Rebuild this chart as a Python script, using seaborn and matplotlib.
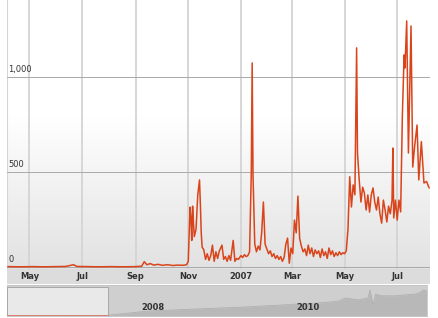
import numpy as np
import pandas as pd
import matplotlib
matplotlib.use("Agg")
import matplotlib.pyplot as plt
import matplotlib.dates as mdates
from matplotlib.colors import LinearSegmentedColormap
from matplotlib.patches import Rectangle
import seaborn as sns

# ---- main series (search volume) ----
dates = [
    "2006-04-06", "2006-04-20", "2006-05-04", "2006-05-18", "2006-06-01", "2006-06-12",
    "2006-06-21", "2006-06-25", "2006-07-06", "2006-07-20", "2006-08-03", "2006-08-17",
    "2006-08-31", "2006-09-08", "2006-09-11", "2006-09-14", "2006-09-18", "2006-09-22",
    "2006-09-27", "2006-10-02", "2006-10-08", "2006-10-14", "2006-10-20", "2006-10-26",
    "2006-10-30", "2006-11-01", "2006-11-02", "2006-11-03", "2006-11-04", "2006-11-05",
    "2006-11-06", "2006-11-07", "2006-11-08", "2006-11-10", "2006-11-12", "2006-11-14",
    "2006-11-15", "2006-11-16", "2006-11-17", "2006-11-19", "2006-11-21", "2006-11-23",
    "2006-11-25", "2006-11-27", "2006-11-29", "2006-12-01", "2006-12-03", "2006-12-05",
    "2006-12-07", "2006-12-10", "2006-12-12", "2006-12-14", "2006-12-16", "2006-12-18",
    "2006-12-20", "2006-12-23", "2006-12-25", "2006-12-27", "2006-12-29", "2007-01-01",
    "2007-01-03", "2007-01-05", "2007-01-07", "2007-01-09", "2007-01-11", "2007-01-13",
    "2007-01-14", "2007-01-15", "2007-01-17", "2007-01-19", "2007-01-21", "2007-01-23",
    "2007-01-25", "2007-01-27", "2007-01-29", "2007-01-31", "2007-02-02", "2007-02-04",
    "2007-02-06", "2007-02-08", "2007-02-10", "2007-02-12", "2007-02-14", "2007-02-16",
    "2007-02-18", "2007-02-20", "2007-02-22", "2007-02-24", "2007-02-26", "2007-02-28",
    "2007-03-02", "2007-03-04", "2007-03-06", "2007-03-08", "2007-03-10", "2007-03-12",
    "2007-03-14", "2007-03-16", "2007-03-18", "2007-03-20", "2007-03-22", "2007-03-24",
    "2007-03-26", "2007-03-28", "2007-03-30", "2007-04-01", "2007-04-03", "2007-04-05",
    "2007-04-07", "2007-04-09", "2007-04-11", "2007-04-13", "2007-04-15", "2007-04-17",
    "2007-04-19", "2007-04-21", "2007-04-23", "2007-04-25", "2007-04-27", "2007-04-29",
    "2007-05-01", "2007-05-03", "2007-05-05", "2007-05-07", "2007-05-09", "2007-05-11",
    "2007-05-13", "2007-05-15", "2007-05-16", "2007-05-18", "2007-05-20", "2007-05-22",
    "2007-05-24", "2007-05-26", "2007-05-28", "2007-05-30", "2007-06-01", "2007-06-03",
    "2007-06-05", "2007-06-07", "2007-06-09", "2007-06-11", "2007-06-13", "2007-06-15",
    "2007-06-17", "2007-06-19", "2007-06-21", "2007-06-23", "2007-06-25", "2007-06-26",
    "2007-06-27", "2007-06-29", "2007-07-01", "2007-07-03", "2007-07-05", "2007-07-07",
    "2007-07-09", "2007-07-10", "2007-07-12", "2007-07-14", "2007-07-17", "2007-07-19",
    "2007-07-21", "2007-07-24", "2007-07-26", "2007-07-29", "2007-08-01", "2007-08-04",
    "2007-08-07",
]
values = [
    2, 1, 2, 1, 2, 3,
    12, 3, 2, 1, 2, 1,
    2, 4, 28, 12, 18, 10,
    14, 9, 12, 8, 10, 9,
    12, 30, 180, 315, 260, 140,
    320, 230, 160, 200, 380, 458,
    330, 180, 105, 90, 40, 70,
    35, 60, 115, 30, 80, 45,
    85, 115, 40, 55, 30, 60,
    35, 140, 30, 45, 40, 60,
    50, 65, 55, 60, 80, 500,
    1074, 480, 120, 80, 110, 90,
    180, 342, 120, 95, 70, 85,
    55, 70, 45, 60, 40, 55,
    30, 50, 120, 152, 20, 100,
    70, 247, 180, 373, 150, 110,
    80, 95, 60, 115, 70, 100,
    55, 90, 70, 85, 50, 95,
    60, 80, 45, 100, 65, 85,
    55, 75, 60, 80, 65, 75,
    70, 85, 200, 475, 316, 432,
    380, 1153, 600, 458, 342, 420,
    389, 300, 379, 289, 380, 416,
    342, 300, 368, 280, 231, 352,
    300, 237, 320, 280, 350, 626,
    258, 352, 247, 352, 290, 800,
    1116, 1047, 1295, 600, 1268, 526,
    626, 747, 458, 660, 442, 450,
    416,
]

# ---- overview (navigator) series, relative units ----
nav_dates = [
    "2006-04-06", "2007-07-20", "2008-02-01", "2008-10-01", "2009-05-01", "2009-10-15",
    "2010-01-15", "2010-04-20", "2010-07-20", "2010-08-20", "2010-10-20", "2010-12-05",
    "2010-12-15", "2010-12-28", "2011-01-10", "2011-02-10", "2011-04-15", "2011-06-01",
    "2011-07-20", "2011-08-10", "2011-08-25", "2011-09-08",
]
nav_values = [
    1, 2, 16, 23, 29, 35,
    39, 42, 48, 58, 52, 58,
    84, 35, 70, 65, 65, 68,
    71, 77, 84, 81,
]

month_ticks = ["2006-05-01", "2006-07-01", "2006-09-01", "2006-11-01",
               "2007-01-01", "2007-03-01", "2007-05-01", "2007-07-01"]
month_labels = ["May", "Jul", "Sep", "Nov", "2007", "Mar", "May", "Jul"]
y_ticks = [0, 500, 1000]
y_labels = ["0", "500", "1,000"]
nav_ticks = ["2008-01-01", "2010-01-01"]
nav_labels = ["2008", "2010"]

df = pd.DataFrame({"date": pd.to_datetime(dates), "value": values})
nav = pd.DataFrame({"date": pd.to_datetime(nav_dates), "value": nav_values})

sns.set_theme(style="white")
plt.rcParams["font.family"] = ["DejaVu Sans"]

W, H = 438, 318
fig = plt.figure(figsize=(W / 100, H / 100), dpi=100)
fig.patch.set_facecolor("white")

def px_axes(x0, y0, x1, y1):
    return fig.add_axes([x0 / W, 1 - y1 / H, (x1 - x0) / W, (y1 - y0) / H])

# label band background (drawn beneath the axes so tick labels stay visible)
band = Rectangle((7 / W, 1 - 284 / H), (430 - 7) / W, (284 - 268) / H,
                 transform=fig.transFigure, facecolor="#dcdcdc", edgecolor="none", zorder=-10)
fig.patches.append(band)

ax = px_axes(7, 0, 430, 269)
ax.set_facecolor("white")
# background gradient: white at top, light grey at the bottom
grad = np.concatenate([np.zeros(110), np.linspace(0, 1, 146)]).reshape(-1, 1)
cmap = LinearSegmentedColormap.from_list("g", ["#ffffff", "#e2e2e2"])
ax.imshow(grad, cmap=cmap, aspect="auto", extent=[0, 1, 0, 1],
          transform=ax.transAxes, zorder=0, origin="upper")

sns.lineplot(data=df, x="date", y="value", ax=ax, color="#d9441a", lw=1.1, zorder=3)

xmin, xmax = pd.Timestamp("2006-04-05"), pd.Timestamp("2007-08-08")
ax.set_xlim(xmin, xmax)
ax.set_ylim(-10.5, 1405)

for t in pd.to_datetime(month_ticks):
    ax.axvline(t, color="#d4d4d4", lw=1.3, zorder=1)
ax.axvline(xmin, color="#d4d4d4", lw=1.5, zorder=1)
for v in y_ticks:
    ax.axhline(v, color="#a8a8a8", lw=0.7, zorder=2)
for v, lab in zip(y_ticks, y_labels):
    ax.text(0.003, v + 14, lab, transform=ax.get_yaxis_transform(), fontsize=6,
            color="#333333", ha="left", va="bottom", zorder=4)

ax.set_xticks(pd.to_datetime(month_ticks))
ax.set_xticklabels(month_labels, fontsize=6, fontweight="bold", color="#333333")
ax.tick_params(axis="x", length=0, pad=2)
ax.set_yticks([])
ax.set_xlabel("")
ax.set_ylabel("")
for s in ax.spines.values():
    s.set_visible(False)

# navigator
nax = px_axes(7, 285, 427, 316)
nax.set_facecolor("#cfcfcf")
sns.lineplot(data=nav, x="date", y="value", ax=nax, color="#b0b0b0", lw=0.6, zorder=2)
nax.fill_between(nav["date"], 0, nav["value"], color="#b8b8b8", lw=0, zorder=1)
nmin, nmax = pd.Timestamp("2006-04-06"), pd.Timestamp("2011-09-10")
nax.set_xlim(nmin, nmax)
nax.set_ylim(0, 100)
sel0, sel1 = mdates.date2num(pd.Timestamp("2006-04-06")), mdates.date2num(pd.Timestamp("2007-07-25"))
nax.add_patch(Rectangle((sel0, 2), sel1 - sel0, 92, facecolor="#e9e9e9",
                        edgecolor="#a0a0a0", lw=0.6, zorder=3))
nax.plot([sel0, sel1], [3.5, 3.5], color="#e07a6a", lw=0.6, zorder=4)
for t, lab in zip(pd.to_datetime(nav_ticks), nav_labels):
    nax.text(t, 28, lab, fontsize=6, fontweight="bold", color="#333333",
             ha="left", va="center", zorder=5)
nax.set_xticks([])
nax.set_yticks([])
nax.set_xlabel("")
nax.set_ylabel("")
for s in nax.spines.values():
    s.set_color("#c4c4c4")
    s.set_linewidth(0.6)

fig.savefig("out.png", dpi=100)
